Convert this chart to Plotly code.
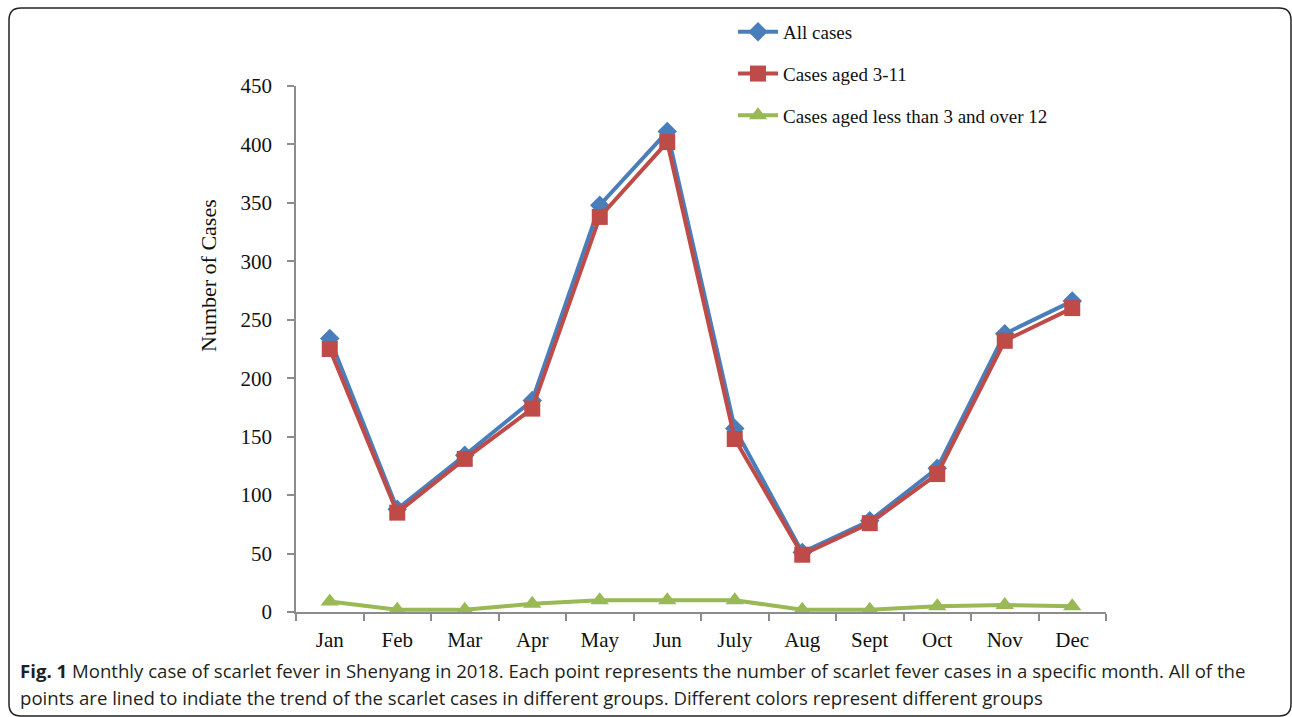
import plotly.graph_objects as go

# Monthly scarlet fever cases, Shenyang 2018
months = ["Jan", "Feb", "Mar", "Apr", "May", "Jun", "July", "Aug", "Sept", "Oct", "Nov", "Dec"]
all_cases = [234, 88, 134, 181, 348, 411, 157, 51, 78, 123, 238, 266]
aged_3_11 = [225, 85, 131, 174, 338, 402, 148, 49, 76, 118, 232, 260]
aged_other = [9, 2, 2, 7, 10, 10, 10, 2, 2, 5, 6, 5]

y_ticks = [0, 50, 100, 150, 200, 250, 300, 350, 400, 450]

W, H = 1292, 717
L, R, T, B = 296, 186, 86, 105
PW, PH = W - L - R, H - T - B


def px_x(px):
    return (px - L) / PW


def px_y(py):
    return (H - B - py) / PH


serif = "Liberation Serif, Times New Roman, serif"

fig = go.Figure()
fig.add_trace(go.Scatter(
    x=months, y=all_cases, name="All cases", mode="lines+markers",
    legendgroup="a",
    line=dict(color="#4A7EBB", width=4),
    marker=dict(symbol="diamond", size=15, color="#4A7EBB"),
))
fig.add_trace(go.Scatter(
    x=months, y=aged_3_11, name="Cases aged 3-11", mode="lines+markers",
    legendgroup="b",
    line=dict(color="#BE4B48", width=4),
    marker=dict(symbol="square", size=16, color="#BE4B48"),
))
fig.add_trace(go.Scatter(
    x=months, y=aged_other, name="Cases aged less than 3 and over 12", mode="lines+markers",
    legendgroup="c",
    line=dict(color="#98B954", width=4),
    marker=dict(symbol="triangle-up", size=16, color="#98B954"),
))

# rounded frame around the figure
x0, x1 = px_x(9), px_x(1291)
y0, y1 = px_y(8), px_y(716)
rx, ry = 12 / PW, 12 / PH
frame = (
    f"M {x0 + rx},{y0} L {x1 - rx},{y0} Q {x1},{y0} {x1},{y0 - ry} "
    f"L {x1},{y1 + ry} Q {x1},{y1} {x1 - rx},{y1} "
    f"L {x0 + rx},{y1} Q {x0},{y1} {x0},{y1 + ry} "
    f"L {x0},{y0 - ry} Q {x0},{y0} {x0 + rx},{y0} Z"
)

caption1 = ("<b>Fig. 1</b> Monthly case of scarlet fever in Shenyang in 2018. Each point represents "
            "the number of scarlet fever cases in a specific month. All of the")
caption2 = ("points are lined to indiate the trend of the scarlet cases in different groups. "
            "Different colors represent different groups")

fig.update_layout(
    width=W, height=H,
    margin=dict(l=L, r=R, t=T, b=B, autoexpand=False),
    paper_bgcolor="white", plot_bgcolor="white",
    font=dict(family=serif, color="#111111"),
    showlegend=True,
    legend=dict(
        x=px_x(733), y=px_y(13), xanchor="left", yanchor="top",
        font=dict(family=serif, size=19, color="#111111"),
        itemwidth=40, traceorder="grouped", tracegroupgap=14,
        bgcolor="rgba(0,0,0,0)",
    ),
    xaxis=dict(
        type="category", range=[-0.5, 11.5],
        showline=True, linecolor="#8C8C8C", linewidth=1.5,
        ticks="outside", ticklen=7, tickcolor="#8C8C8C", tickwidth=1.5,
        tickson="boundaries", showgrid=False, zeroline=False,
        ticklabelstandoff=8,
        tickfont=dict(family=serif, size=21, color="#111111"),
    ),
    yaxis=dict(
        range=[0, 450], tickvals=y_ticks,
        showline=True, linecolor="#8C8C8C", linewidth=1.5,
        ticks="outside", ticklen=7, tickcolor="#8C8C8C", tickwidth=1.5,
        showgrid=False, zeroline=False,
        ticklabelstandoff=11,
        tickfont=dict(family=serif, size=21, color="#111111"),
    ),
    shapes=[dict(type="path", path=frame, xref="paper", yref="paper",
                 line=dict(color="#222222", width=1.5), fillcolor="rgba(0,0,0,0)")],
    annotations=[
        dict(text="Number of Cases", textangle=-90, x=px_x(208), y=px_y(276),
             xref="paper", yref="paper", xanchor="center", yanchor="middle",
             showarrow=False, font=dict(family=serif, size=22, color="#111111")),
        dict(text=caption1, x=px_x(18), y=px_y(670), xref="paper", yref="paper",
             xanchor="left", yanchor="middle", showarrow=False,
             font=dict(family="Open Sans", size=18.6, color="#231F20")),
        dict(text=caption2, x=px_x(18), y=px_y(697), xref="paper", yref="paper",
             xanchor="left", yanchor="middle", showarrow=False,
             font=dict(family="Open Sans", size=18.6, color="#231F20")),
    ],
)

fig.write_html("out.html")
